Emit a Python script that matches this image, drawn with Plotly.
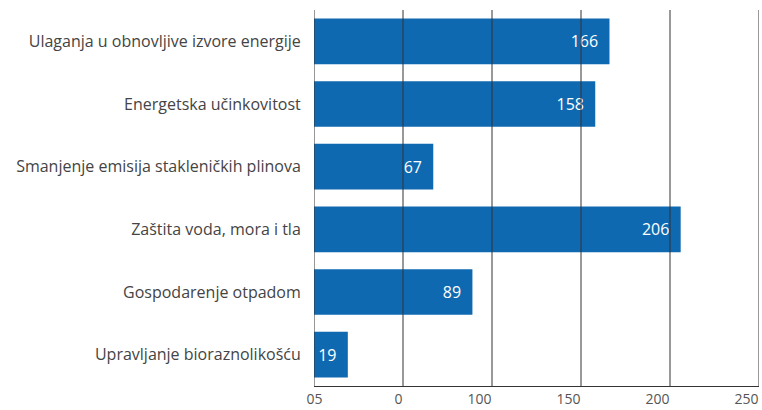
import plotly.graph_objects as go

categories = [
    "Ulaganja u obnovljive izvore energije",
    "Energetska učinkovitost",
    "Smanjenje emisija stakleničkih plinova",
    "Zaštita voda, mora i tla",
    "Gospodarenje otpadom",
    "Upravljanje bioraznolikošću",
]
values = [166, 158, 67, 206, 89, 19]
grid_values = [0, 50, 100, 150, 200, 250]
tick_values = [5, 50, 100, 150, 200, 250]
tick_labels = ["05", "0", "100", "150", "200", "250"]

BAR = "#0f69b0"

fig = go.Figure(
    go.Bar(
        y=categories,
        x=values,
        orientation="h",
        marker=dict(color=BAR, line=dict(width=0)),
        width=0.73,
        text=values,
        texttemplate="%{x}\u00a0\u00a0",
        textposition="inside",
        insidetextanchor="end",
        textangle=0,
        insidetextfont=dict(color="white", size=16, family="Open Sans"),
        cliponaxis=False,
    )
)

shapes = [
    dict(type="line", xref="x", yref="paper", x0=g, x1=g, y0=0, y1=1,
         line=dict(color="#333333", width=1), layer="above")
    for g in grid_values
]

fig.update_layout(
    width=762,
    height=410,
    margin=dict(l=314, r=3, t=10, b=24),
    paper_bgcolor="white",
    plot_bgcolor="white",
    showlegend=False,
    shapes=shapes,
    font=dict(family="Open Sans", size=16, color="#444444"),
    xaxis=dict(
        range=[0, 250],
        tickvals=tick_values,
        ticktext=tick_labels,
        ticklabelposition="outside left",
        ticklabeloverflow="allow",
        showgrid=False,
        zeroline=False,
        showline=True,
        linecolor="#333333",
        linewidth=1,
        ticks="",
        tickfont=dict(family="Open Sans", size=14, color="#555555"),
        automargin=False,
        fixedrange=True,
    ),
    yaxis=dict(
        categoryorder="array",
        categoryarray=categories[::-1],
        showgrid=False,
        zeroline=False,
        showline=False,
        ticks="outside",
        ticklen=9,
        tickcolor="white",
        tickfont=dict(family="Open Sans", size=16, color="#444444"),
        automargin=False,
        fixedrange=True,
    ),
)

fig.write_html(
    "out.html",
    config={"displayModeBar": False},
    post_script="document.body.style.margin='0';document.documentElement.style.overflow='hidden';",
)
